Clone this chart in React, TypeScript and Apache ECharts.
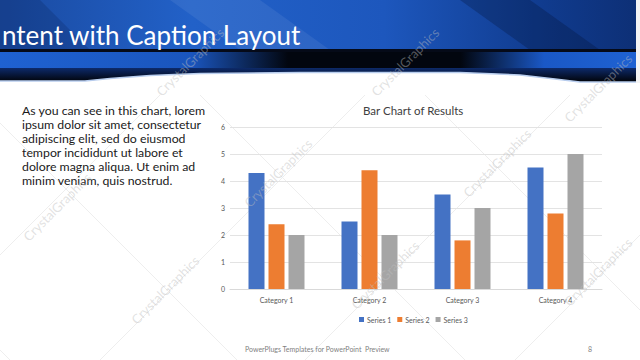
import React, { useEffect, useRef } from "react";
import * as echarts from "echarts";

const categories = ["Category 1", "Category 2", "Category 3", "Category 4"];
const seriesNames = ["Series 1", "Series 2", "Series 3"];
const series1 = [4.3, 2.5, 3.5, 4.5];
const series2 = [2.4, 4.4, 1.8, 2.8];
const series3 = [2, 2, 3, 5];
const seriesColors = ["#4472c4", "#ed7d31", "#a5a5a5"];
const yMin = 0;
const yMax = 6;
const yInterval = 1;

const headerTitle = "ntent with Caption Layout";
const chartTitle = "Bar Chart of Results";
const captionLines = [
  "As you can see in this chart, lorem",
  "ipsum dolor sit amet, consectetur",
  "adipiscing elit, sed do eiusmod",
  "tempor incididunt ut labore et",
  "dolore magna aliqua. Ut enim ad",
  "minim veniam, quis nostrud.",
];
const footerText = "PowerPlugs Templates for PowerPoint  Preview";
const pageNumber = "8";
const watermarkText = "CrystalGraphics";
const watermarkSpots = [
  [57, 207],
  [190, 62],
  [165, 290],
  [278, 173],
  [405, 62],
  [385, 275],
  [497, 163],
  [598, 88],
  [598, 272],
];

export default function App() {
  const ref = useRef<HTMLDivElement>(null);
  useEffect(() => {
    if (!ref.current) return;
    const chart = echarts.init(ref.current, undefined, { renderer: "svg" });

    const bgLines: any[] = [];
    [123, -105, -330, 350].forEach((c) => {
      bgLines.push({
        type: "line",
        z: -5,
        silent: true,
        shape: { x1: -400, y1: -400 + c, x2: 1000, y2: 1000 + c },
        style: { stroke: "#eeeeee", lineWidth: 1 },
      });
    });
    [255, 460, 665, 875].forEach((c) => {
      bgLines.push({
        type: "line",
        z: -5,
        silent: true,
        shape: { x1: -400, y1: c + 400, x2: 1000, y2: c - 1000 },
        style: { stroke: "#eeeeee", lineWidth: 1 },
      });
    });

    const marks = watermarkSpots.map(([x, y]) => ({
      type: "text",
      z: 50,
      silent: true,
      x,
      y,
      rotation: Math.PI / 4,
      style: {
        text: watermarkText,
        fontFamily: "Lato",
        fontSize: 13,
        fill: "rgba(190,190,190,0.45)",
        align: "center",
        verticalAlign: "middle",
      },
    }));

    const option: any = {
      animation: false,
      backgroundColor: "#ffffff",
      title: {
        text: chartTitle,
        left: 363,
        top: 104,
        padding: 0,
        textStyle: {
          fontFamily: "Lato",
          fontSize: 11.5,
          fontWeight: "normal",
          color: "#404040",
        },
      },
      legend: {
        data: seriesNames,
        left: 354,
        top: 311,
        icon: "rect",
        itemWidth: 5,
        itemHeight: 5,
        itemGap: 6,
        textStyle: { fontFamily: "Lato", fontSize: 7, color: "#595959", padding: [0, 0, 0, -2] },
      },
      grid: { left: 230, top: 127, width: 372, height: 162, containLabel: false },
      xAxis: {
        type: "category",
        data: categories,
        axisLine: { show: true, lineStyle: { color: "#d9d9d9" } },
        axisTick: { show: false },
        axisLabel: { fontFamily: "Lato", fontSize: 7, color: "#595959", margin: 7 },
      },
      yAxis: {
        type: "value",
        min: yMin,
        max: yMax,
        interval: yInterval,
        axisLine: { show: false },
        axisTick: { show: false },
        splitLine: { lineStyle: { color: "#e3e3e3" } },
        axisLabel: { fontFamily: "Lato", fontSize: 7, color: "#595959", margin: 5 },
      },
      series: [series1, series2, series3].map((d, i) => ({
        name: seriesNames[i],
        type: "bar",
        data: d,
        barWidth: 16,
        barGap: "25%",
        itemStyle: { color: seriesColors[i] },
      })),
      graphic: [
        ...bgLines,
        {
          type: "rect",
          z: -3,
          silent: true,
          shape: { x: 0, y: 0, width: 640, height: 50 },
          style: {
            fill: new echarts.graphic.LinearGradient(0, 0, 1, 0, [
              { offset: 0, color: "#1a4aa0" },
              { offset: 0.3, color: "#2261c8" },
              { offset: 0.6, color: "#1d57bd" },
              { offset: 0.85, color: "#103b8e" },
              { offset: 1, color: "#0d2f75" },
            ]),
          },
        },
        {
          type: "polygon",
          z: -2,
          silent: true,
          shape: { points: [[170, 0], [260, 0], [330, 50], [240, 50]] },
          style: { fill: "rgba(255,255,255,0.07)" },
        },
        {
          type: "polygon",
          z: -2,
          silent: true,
          shape: { points: [[460, 0], [530, 0], [600, 50], [530, 50]] },
          style: { fill: "rgba(0,10,40,0.25)" },
        },
        {
          type: "polygon",
          z: -2,
          silent: true,
          shape: { points: [[0, 0], [40, 0], [90, 50], [0, 50]] },
          style: { fill: "rgba(0,10,40,0.15)" },
        },
        {
          type: "rect",
          z: -2,
          silent: true,
          shape: { x: 0, y: 49, width: 640, height: 3 },
          style: { fill: "#050a18" },
        },
        {
          type: "rect",
          z: -2,
          silent: true,
          shape: { x: 0, y: 52, width: 640, height: 16 },
          style: {
            fill: new echarts.graphic.LinearGradient(0, 0, 1, 0, [
              { offset: 0, color: "#1f62d2" },
              { offset: 0.3, color: "#1a55bd" },
              { offset: 0.45, color: "#02060f" },
              { offset: 0.72, color: "#02060f" },
              { offset: 0.85, color: "#1a58c6" },
              { offset: 1, color: "#1f62d2" },
            ]),
          },
        },
        {
          type: "rect",
          z: -2,
          silent: true,
          shape: { x: 0, y: 68, width: 640, height: 15 },
          style: {
            fill: new echarts.graphic.LinearGradient(0, 0, 0, 1, [
              { offset: 0, color: "#0d2a6a" },
              { offset: 1, color: "#000000" },
            ]),
          },
        },
        {
          type: "polygon",
          z: -1,
          silent: true,
          shape: {
            points: [
              [0, 81], [85, 81], [110, 78.5], [150, 75.5], [200, 73.5], [300, 72.5],
              [460, 72.5], [520, 75], [555, 79], [580, 82], [640, 82], [640, 95], [0, 95],
            ],
          },
          style: { fill: "#ffffff" },
        },
        {
          type: "polyline",
          z: -1,
          silent: true,
          shape: {
            points: [
              [0, 81], [85, 81], [110, 78.5], [150, 75.5], [200, 73.5], [300, 72.5],
              [460, 72.5], [520, 75], [555, 79], [580, 82], [640, 82],
            ],
          },
          style: { stroke: "#b8cdee", lineWidth: 1.5, fill: "none" },
        },
        {
          type: "rect",
          z: -1,
          silent: true,
          shape: { x: 636, y: 0, width: 4, height: 83 },
          style: { fill: "#f4f4f4" },
        },
        {
          type: "text",
          z: 10,
          silent: true,
          x: 2,
          y: 48,
          style: {
            text: headerTitle,
            fontFamily: "Lato",
            fontSize: 26,
            fill: "#ffffff",
            align: "left",
            verticalAlign: "bottom",
          },
        },
        {
          type: "text",
          z: 10,
          silent: true,
          x: 22,
          y: 103.5,
          style: {
            text: captionLines.join("\n"),
            fontFamily: "Lato",
            fontSize: 12.3,
            lineHeight: 14,
            fill: "#1a1a1a",
            align: "left",
            verticalAlign: "top",
          },
        },
        {
          type: "text",
          z: 10,
          silent: true,
          x: 245,
          y: 349,
          style: {
            text: footerText,
            fontFamily: "Lato",
            fontSize: 7,
            fill: "#7f7f7f",
            align: "left",
            verticalAlign: "middle",
          },
        },
        {
          type: "text",
          z: 10,
          silent: true,
          x: 588,
          y: 349,
          style: {
            text: pageNumber,
            fontFamily: "Lato",
            fontSize: 7,
            fill: "#7f7f7f",
            align: "left",
            verticalAlign: "middle",
          },
        },
        ...marks,
      ],
    };
    chart.setOption(option);
    return () => chart.dispose();
  }, []);

  return (
    <div
      ref={ref}
      style={{ position: "fixed", left: 0, top: 0, width: 640, height: 360 }}
    />
  );
}
